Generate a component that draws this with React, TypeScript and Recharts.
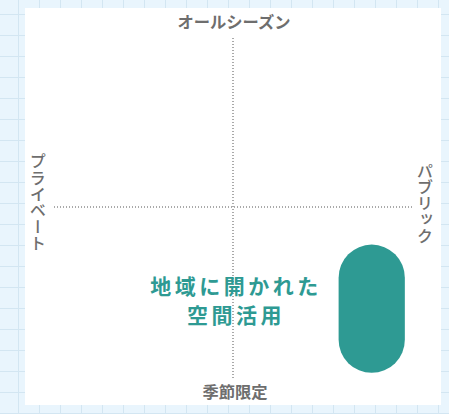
import React from 'react';
import {
  ScatterChart,
  Scatter,
  XAxis,
  YAxis,
  ReferenceLine,
  ReferenceArea,
  Label,
} from 'recharts';

// axis end labels
const topLabel = 'オールシーズン';
const bottomLabel = '季節限定';
const leftLabel = 'プライベート';
const rightLabel = 'パブリック';

// positioned zone on the map (x: private -> public, y: seasonal -> all season)
const zones = [{ name: 'public-seasonal', x1: 0.59, x2: 0.96, y1: -0.97, y2: -0.22 }];

// caption for the zone
const captionLines = ['地域に開かれた', '空間活用'];
const captionPoint = [{ x: 0.005, y: -0.55 }];

const TEAL = '#2e9a93';
const GRAY = '#6e6e6e';
const FONT = '"Noto Sans CJK JP", "Noto Sans", sans-serif';

const PillShape = (props: any) => {
  const { x, y, width, height } = props;
  return <rect x={x} y={y} width={width} height={height} rx={width / 2} ry={width / 2} fill={TEAL} />;
};

const CaptionShape = (props: any) => {
  const { cx, cy } = props;
  return (
    <text
      x={cx}
      y={cy}
      textAnchor="middle"
      fill={TEAL}
      fontFamily={FONT}
      fontSize={21}
      fontWeight={700}
      letterSpacing={3.5}
    >
      {captionLines.map((line, i) => (
        <tspan key={line} x={cx + 2} y={cy - 7 + i * 29}>
          {line}
        </tspan>
      ))}
    </text>
  );
};

const axisText = {
  fill: GRAY,
  fontFamily: FONT,
  fontSize: 16.3,
  fontWeight: 700,
};

const sideText = {
  fill: GRAY,
  fontFamily: FONT,
  fontSize: 16.3,
  fontWeight: 500,
};

const App: React.FC = () => {
  return (
    <div
      style={{
        position: 'fixed',
        left: 0,
        top: 0,
        width: 449,
        height: 414,
        backgroundColor: '#e9f5fd',
        backgroundImage:
          'linear-gradient(to right, #d3e6f2 1px, transparent 1px), linear-gradient(to bottom, #d3e6f2 1px, transparent 1px)',
        backgroundSize: '21px 21px',
        backgroundPosition: '18px 14px',
      }}
    >
      <div
        style={{
          position: 'absolute',
          left: 25,
          top: 8,
          width: 416,
          height: 397,
          background: '#ffffff',
        }}
      />
      <div style={{ position: 'absolute', left: 0, top: 0 }}>
        <ScatterChart width={449} height={414} margin={{ top: 36, right: 37, bottom: 36, left: 54 }}>
          <XAxis type="number" dataKey="x" domain={[-1, 1]} hide />
          <YAxis type="number" dataKey="y" domain={[-1, 1]} hide />
          <ReferenceLine x={0} stroke="#555" strokeWidth={1} strokeDasharray="1 2">
            <Label
              content={(p: any) => (
                <text x={p.viewBox.x + 1} y={p.viewBox.y - 8} textAnchor="middle" {...axisText}>
                  {topLabel}
                </text>
              )}
            />
            <Label
              content={(p: any) => (
                <text
                  x={p.viewBox.x + 2}
                  y={p.viewBox.y + p.viewBox.height + 20}
                  textAnchor="middle"
                  {...axisText}
                >
                  {bottomLabel}
                </text>
              )}
            />
          </ReferenceLine>
          <ReferenceLine y={0} stroke="#555" strokeWidth={1} strokeDasharray="1 2">
            <Label
              content={(p: any) => (
                <text
                  x={p.viewBox.x - 16}
                  y={p.viewBox.y - 5}
                  textAnchor="middle"
                  style={{ writingMode: 'vertical-rl' }}
                  {...sideText}
                >
                  {leftLabel}
                </text>
              )}
            />
            <Label
              content={(p: any) => (
                <text
                  x={p.viewBox.x + p.viewBox.width + 13}
                  y={p.viewBox.y - 4}
                  textAnchor="middle"
                  style={{ writingMode: 'vertical-rl' }}
                  {...sideText}
                >
                  {rightLabel}
                </text>
              )}
            />
          </ReferenceLine>
          {zones.map((z) => (
            <ReferenceArea
              key={z.name}
              x1={z.x1}
              x2={z.x2}
              y1={z.y1}
              y2={z.y2}
              shape={PillShape}
              ifOverflow="visible"
            />
          ))}
          <Scatter data={captionPoint} shape={CaptionShape} isAnimationActive={false} />
        </ScatterChart>
      </div>
    </div>
  );
};

export default App;
